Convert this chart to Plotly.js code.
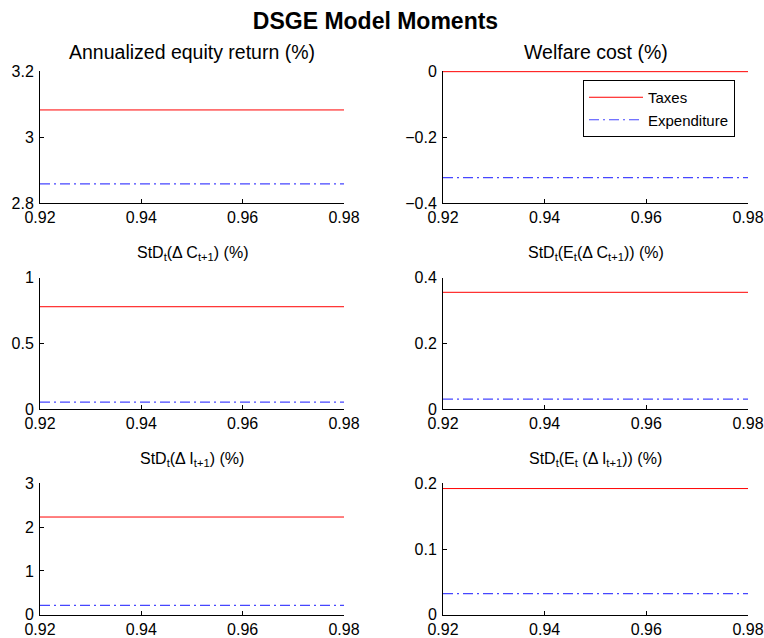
<!DOCTYPE html>
<html>
<head>
<meta charset="utf-8">
<script src="https://cdn.plot.ly/plotly-3.0.1.min.js"></script>
<style>html,body{margin:0;padding:0;background:#fff;}#chart{width:764px;height:638px;}</style>
</head>
<body>
<div id="chart"></div>
<script>
// Discount factor grid (x-axis)
const beta = [0.92, 0.98];

// Panel titles
const panelTitles = [
  "Annualized equity return (%)",
  "Welfare cost (%)",
  "StD<sub>t</sub>(Δ C<sub>t+1</sub>) (%)",
  "StD<sub>t</sub>(E<sub>t</sub>(Δ C<sub>t+1</sub>)) (%)",
  "StD<sub>t</sub>(Δ I<sub>t+1</sub>) (%)",
  "StD<sub>t</sub>(E<sub>t</sub> (Δ I<sub>t+1</sub>)) (%)"
];

// Series values per panel (constant across beta)
const taxes       = [3.082, 0.000, 0.779, 0.3555, 2.23, 0.192];
const expenditure = [2.858, -0.323, 0.053, 0.030, 0.215, 0.032];

// Y-axis ranges and tick steps
const yRanges = [[2.8, 3.2], [-0.4, 0.002], [0, 1], [0, 0.4], [0, 3], [0, 0.2]];
const yDticks = [0.2, 0.2, 0.5, 0.2, 1, 0.1];

const xTicks = [0.92, 0.94, 0.96, 0.98];
const seriesNames = ["Taxes", "Expenditure"];

const W = 764, H = 638;
const colDom = [[40 / W, 344 / W], [443 / W, 748 / W]];
const rowPx = [[71, 203], [277.7, 409], [483.3, 614.7]];
const rowDom = rowPx.map(r => [1 - r[1] / H, 1 - r[0] / H]);

const font = "Liberation Sans, Arial, Helvetica, sans-serif";
const traces = [];
const layout = {
  width: W, height: H,
  margin: {l: 0, r: 0, t: 0, b: 0},
  paper_bgcolor: "#fff", plot_bgcolor: "#fff",
  font: {family: font, size: 16, color: "#000"},
  showlegend: true,
  legend: {
    x: 583 / W, y: 1 - 80 / H, xanchor: "left", yanchor: "top",
    bgcolor: "#fff", bordercolor: "#000", borderwidth: 1,
    font: {family: font, size: 15, color: "#000"},
    tracegroupgap: 0, itemwidth: 54
  },
  title: {
    text: "<b>DSGE Model Moments</b>",
    font: {family: font, size: 23, color: "#000"},
    x: 375.5 / W, xanchor: "center", y: 1 - 21 / H, yanchor: "middle"
  },
  annotations: []
};

const titleY = [52, 253, 459];

for (let i = 0; i < 6; i++) {
  const row = Math.floor(i / 2), col = i % 2;
  const n = i + 1;
  const xa = "x" + (n === 1 ? "" : n), ya = "y" + (n === 1 ? "" : n);
  traces.push({
    x: beta, y: beta.map(() => taxes[i]), type: "scatter", mode: "lines",
    name: seriesNames[0], xaxis: xa, yaxis: ya, showlegend: i === 1,
    line: {color: "#ff0000", width: 1}
  });
  traces.push({
    x: beta, y: beta.map(() => expenditure[i]), type: "scatter", mode: "lines",
    name: seriesNames[1], xaxis: xa, yaxis: ya, showlegend: i === 1,
    line: {color: "rgb(70,70,255)", width: 1.2, dash: "10px,4px,2px,4px"}
  });
  const axBase = {
    showline: true, linecolor: "#000", linewidth: 1, mirror: false,
    showgrid: false, zeroline: false,
    ticks: "inside", ticklen: 4, tickcolor: "#000", tickwidth: 1,
    tickfont: {family: font, size: 16, color: "#000"}, fixedrange: true
  };
  layout["xaxis" + (n === 1 ? "" : n)] = Object.assign({}, axBase, {
    domain: colDom[col], anchor: ya, range: [0.92, 0.98],
    tickmode: "array", tickvals: xTicks, ticktext: xTicks.map(v => v.toFixed(2)),
    ticklabelstandoff: 0
  });
  layout["yaxis" + (n === 1 ? "" : n)] = Object.assign({}, axBase, {
    domain: rowDom[row], anchor: xa, range: yRanges[i],
    tick0: 0, dtick: yDticks[i], ticklabelstandoff: 2
  });
  layout.annotations.push({
    text: panelTitles[i], showarrow: false,
    xref: "paper", yref: "paper",
    x: (colDom[col][0] + colDom[col][1]) / 2, xanchor: "center",
    y: 1 - titleY[row] / H, yanchor: "middle",
    font: {family: font, size: i < 2 ? 19.5 : 16, color: "#000"}
  });
}

Plotly.newPlot("chart", traces, layout, {displayModeBar: false, staticPlot: true});
</script>
</body>
</html>
